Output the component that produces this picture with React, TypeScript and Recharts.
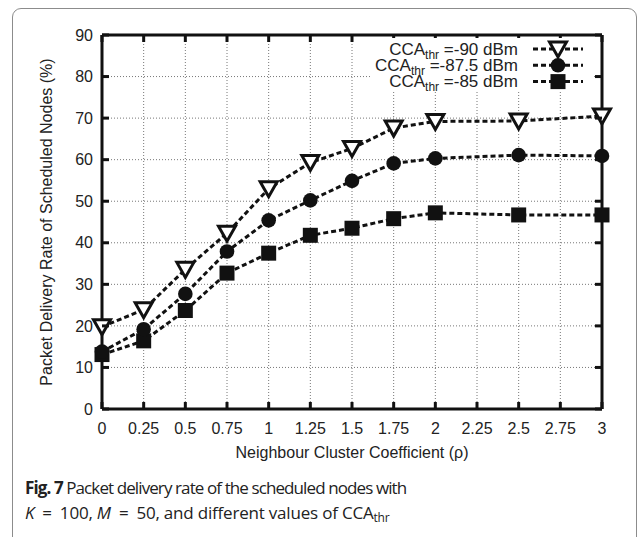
import React from 'react';
import { LineChart, Line, XAxis, YAxis, CartesianGrid, ReferenceLine } from 'recharts';

// neighbour cluster coefficient (rho)
const coefficients = [0, 0.25, 0.5, 0.75, 1, 1.25, 1.5, 1.75, 2, 2.5, 3];
// packet delivery rate (%) for each CCA threshold
const pdrMinus90 = [19.8, 23.9, 33.6, 42.3, 53.0, 59.3, 62.7, 67.6, 69.2, 69.3, 70.5];
const pdrMinus875 = [13.8, 19.2, 27.7, 37.9, 45.4, 50.2, 54.9, 59.1, 60.3, 61.1, 60.9];
const pdrMinus85 = [13.1, 16.4, 23.7, 32.7, 37.5, 41.8, 43.5, 45.8, 47.2, 46.7, 46.7];
const seriesLabels = ['=-90 dBm', '=-87.5 dBm', '=-85 dBm'];

const xTicks = [0, 0.25, 0.5, 0.75, 1, 1.25, 1.5, 1.75, 2, 2.25, 2.5, 2.75, 3];
const yTicks = [0, 10, 20, 30, 40, 50, 60, 70, 80, 90];

const data = coefficients.map((rho, i) => ({
  rho,
  a: pdrMinus90[i],
  b: pdrMinus875[i],
  c: pdrMinus85[i],
}));

const W = 637;
const H = 537;
const PLOT_TOP = 35;
const PLOT_LEFT = 102;
const PLOT_RIGHT = 602;
const PLOT_BOTTOM = 409;
const AXIS_FONT = '"Liberation Sans", Arial, Helvetica, sans-serif';
const INK = '#111';

function Triangle({ cx, cy }: { cx: number; cy: number }) {
  return (
    <polygon
      points={`${cx - 8.5},${cy - 7} ${cx + 8.5},${cy - 7} ${cx},${cy + 8}`}
      fill="#fff"
      stroke={INK}
      strokeWidth={3}
      strokeLinejoin="miter"
    />
  );
}
function Dot({ cx, cy }: { cx: number; cy: number }) {
  return <circle cx={cx} cy={cy} r={7.3} fill={INK} />;
}
function Square({ cx, cy }: { cx: number; cy: number }) {
  return <rect x={cx - 7.5} y={cy - 7.5} width={15} height={15} fill={INK} />;
}

const shapes = [Triangle, Dot, Square];

const makeDot = (Shape: any) => (props: any) => {
  const { cx, cy, index } = props;
  if (cx == null || cy == null) return <g key={`n-${index}`} />;
  return <Shape key={`d-${index}`} cx={cx} cy={cy} />;
};

// inward tick marks on bottom and top edges
const XTick = (props: any) => {
  const { x, payload } = props;
  return (
    <g>
      <rect x={x - 1.5} y={PLOT_BOTTOM - 7} width={3} height={7} fill={INK} />
      <rect x={x - 1.5} y={PLOT_TOP} width={3} height={7} fill={INK} />
      <text x={x} y={PLOT_BOTTOM + 24.5} textAnchor="middle" fontSize={16} fontFamily={AXIS_FONT} fill="#222">
        {payload.value}
      </text>
    </g>
  );
};

// inward tick marks on left and right edges
const YTick = (props: any) => {
  const { y, payload } = props;
  return (
    <g>
      <rect x={PLOT_LEFT} y={y - 1.5} width={7} height={3} fill={INK} />
      <rect x={PLOT_RIGHT - 7} y={y - 1.5} width={7} height={3} fill={INK} />
      <text x={PLOT_LEFT - 9} y={y + 5.7} textAnchor="end" fontSize={16} fontFamily={AXIS_FONT} fill="#222">
        {payload.value}
      </text>
    </g>
  );
};

const LegendBox = () => (
  <svg width={W} height={100} style={{ position: 'absolute', left: 0, top: 0, overflow: 'visible' }}>
    <rect x={372} y={38} width={222} height={53} fill="#fff" />
    {seriesLabels.map((label, i) => {
      const Shape = shapes[i];
      const cy = 49 + i * 16.3;
      return (
        <g key={label}>
          <text x={518} y={cy + 5.5} textAnchor="end" fontFamily={AXIS_FONT} fontSize={17} fill="#222">
            CCA
            <tspan fontSize={12} dy={4}>thr</tspan>
            <tspan dy={-4}> {label}</tspan>
          </text>
          <line x1={533} y1={cy} x2={583} y2={cy} stroke={INK} strokeWidth={3} strokeDasharray="5 3" />
          <Shape cx={558} cy={cy} />
        </g>
      );
    })}
  </svg>
);

const eq: React.CSSProperties = { margin: '0 8px' };

export default function App() {
  return (
    <div style={{ position: 'absolute', left: 0, top: 0, width: W, height: H, background: '#fff', overflow: 'hidden' }}>
      <div
        style={{
          position: 'absolute',
          left: 12,
          top: 8,
          width: 623,
          height: 580,
          border: '1px solid #8c8c8c',
          borderRadius: 9,
        }}
      />
      <div style={{ position: 'absolute', left: 0, top: 0 }}>
        <LineChart width={W} height={H} data={data} margin={{ top: PLOT_TOP, right: W - PLOT_RIGHT, bottom: 98, left: 0 }}>
          <CartesianGrid stroke="#777" strokeWidth={1} strokeDasharray="1 2" />
          <XAxis
            dataKey="rho"
            type="number"
            domain={[0, 3]}
            ticks={xTicks}
            interval={0}
            height={30}
            axisLine={{ stroke: INK, strokeWidth: 3 }}
            tickLine={false}
            tickSize={0}
            tick={<XTick />}
          />
          <YAxis
            type="number"
            domain={[0, 90]}
            ticks={yTicks}
            interval={0}
            width={PLOT_LEFT}
            axisLine={{ stroke: INK, strokeWidth: 3 }}
            tickLine={false}
            tickSize={0}
            tick={<YTick />}
          />
          <ReferenceLine x={3} stroke={INK} strokeWidth={3} strokeOpacity={1} />
          <ReferenceLine y={90} stroke={INK} strokeWidth={3} strokeOpacity={1} />
          <Line dataKey="c" stroke={INK} strokeWidth={3} strokeDasharray="5 3" dot={makeDot(Square)} isAnimationActive={false} />
          <Line dataKey="b" stroke={INK} strokeWidth={3} strokeDasharray="5 3" dot={makeDot(Dot)} isAnimationActive={false} />
          <Line dataKey="a" stroke={INK} strokeWidth={3} strokeDasharray="5 3" dot={makeDot(Triangle)} isAnimationActive={false} />
        </LineChart>
      </div>
      <LegendBox />
      <div
        style={{
          position: 'absolute',
          left: 46.5,
          top: 222,
          transform: 'translate(-50%, -50%) rotate(-90deg)',
          whiteSpace: 'nowrap',
          fontFamily: AXIS_FONT,
          fontSize: 16,
          color: '#222',
        }}
      >
        Packet Delivery Rate of Scheduled Nodes (%)
      </div>
      <div
        style={{
          position: 'absolute',
          left: 352,
          top: 453,
          transform: 'translate(-50%, -50%)',
          whiteSpace: 'nowrap',
          fontFamily: AXIS_FONT,
          fontSize: 16,
          color: '#222',
        }}
      >
        Neighbour Cluster Coefficient (ρ)
      </div>
      <div
        style={{
          position: 'absolute',
          left: 25,
          top: 475,
          fontFamily: '"Open Sans", "Noto Sans", sans-serif',
          fontSize: 17,
          lineHeight: '25px',
          color: '#222',
          whiteSpace: 'nowrap',
        }}
      >
        <div style={{ letterSpacing: -0.9 }}>
          <b>Fig. 7</b> Packet delivery rate of the scheduled nodes with
        </div>
        <div style={{ letterSpacing: -0.2 }}>
          <i>K</i>
          <span style={eq}>=</span>100, <i>M</i>
          <span style={eq}>=</span>50, and different values of CCA
          <sub style={{ fontSize: 12, verticalAlign: -3, lineHeight: 0 }}>thr</sub>
        </div>
      </div>
    </div>
  );
}
